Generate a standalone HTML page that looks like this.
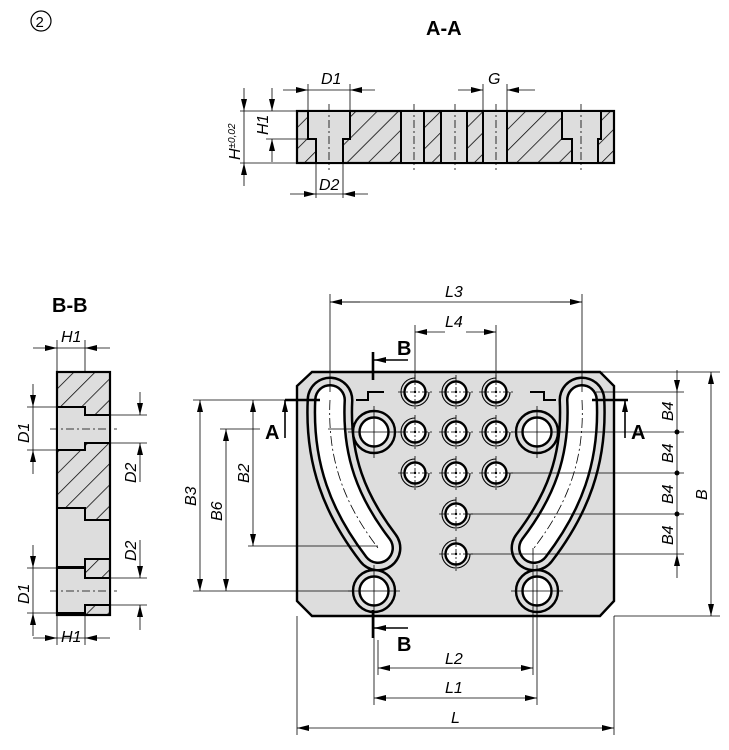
<!DOCTYPE html>
<html><head><meta charset="utf-8"><style>
html,body{margin:0;padding:0;background:#fff}
svg{display:block}
text{font-family:"Liberation Sans",sans-serif;font-size:16px;font-style:italic;fill:#000}
.b{font-weight:bold;font-style:normal;font-size:20px}
</style></head><body>
<svg width="729" height="750" viewBox="0 0 729 750" xmlns="http://www.w3.org/2000/svg">
<defs>
<marker id="ar" viewBox="0 0 12 6" refX="12" refY="3" markerWidth="12" markerHeight="6" orient="auto" markerUnits="userSpaceOnUse"><path d="M0,0L12,3L0,6z"/></marker>
<pattern id="h" width="15" height="15" patternUnits="userSpaceOnUse" patternTransform="rotate(45)"><rect width="15" height="15" fill="#ddd"/><line x1="0" y1="0" x2="0" y2="15" stroke="#000" stroke-width="1.5"/></pattern>
<g id="sh"><circle r="10.5" fill="#fff" stroke="#000" stroke-width="2.4"/><path d="M14,0A14,14 0 1 1 0,-14" fill="none" stroke="#000" stroke-width="1.1"/><line x1="-17" y1="0" x2="17" y2="0" stroke="#000" stroke-width="0.8" stroke-dasharray="6,2,2,2"/><line x1="0" y1="-17" x2="0" y2="17" stroke="#000" stroke-width="0.8" stroke-dasharray="6,2,2,2"/><circle r="1.2"/></g>
<g id="lh"><circle r="21" fill="#ddd" stroke="#000" stroke-width="2.4"/><circle r="14.5" fill="#fff" stroke="#000" stroke-width="2.4"/><line x1="-26" y1="0" x2="26" y2="0" stroke="#000" stroke-width="0.8"/><line x1="0" y1="-26" x2="0" y2="26" stroke="#000" stroke-width="0.8"/></g>
</defs>

<circle cx="41" cy="21" r="10" fill="none" stroke="#000" stroke-width="1.2"/>
<text x="35.5" y="27" style="font-style:normal;font-size:15px">2</text>
<text class="b" x="426" y="35">A-A</text>

<g stroke="#000">
<rect x="297" y="111" width="317" height="52" fill="url(#h)" stroke-width="2.2"/>
<path d="M308,111V139H316V163H343V139H350V111Z" fill="#ddd" stroke-width="2"/>
<path d="M562,111V139H572V163H598V139H601V111Z" fill="#ddd" stroke-width="2"/>
<rect x="401" y="111" width="23" height="52" fill="#ddd" stroke-width="2"/>
<rect x="441" y="111" width="26" height="52" fill="#ddd" stroke-width="2"/>
<rect x="483" y="111" width="24" height="52" fill="#ddd" stroke-width="2"/>
<g stroke-width="0.8" stroke-dasharray="8,3,2,3">
<line x1="329" y1="104" x2="329" y2="170"/><line x1="414" y1="104" x2="414" y2="170"/><line x1="455" y1="104" x2="455" y2="170"/><line x1="496" y1="104" x2="496" y2="170"/><line x1="581" y1="104" x2="581" y2="170"/>
</g>
<g stroke-width="0.8" fill="none">
<line x1="308" y1="84" x2="308" y2="111"/><line x1="350" y1="84" x2="350" y2="111"/>
<line x1="283" y1="90" x2="308" y2="90" marker-end="url(#ar)"/><line x1="375" y1="90" x2="350" y2="90" marker-end="url(#ar)"/><line x1="308" y1="90" x2="350" y2="90"/>
<line x1="483" y1="84" x2="483" y2="111"/><line x1="507" y1="84" x2="507" y2="111"/>
<line x1="458" y1="90" x2="483" y2="90" marker-end="url(#ar)"/><line x1="535" y1="90" x2="507" y2="90" marker-end="url(#ar)"/>
<line x1="316" y1="163" x2="316" y2="198"/><line x1="343" y1="163" x2="343" y2="198"/>
<line x1="290" y1="194" x2="316" y2="194" marker-end="url(#ar)"/><line x1="368" y1="194" x2="343" y2="194" marker-end="url(#ar)"/><line x1="316" y1="194" x2="343" y2="194"/>
<line x1="240" y1="111" x2="297" y2="111"/><line x1="240" y1="163" x2="297" y2="163"/><line x1="266" y1="139" x2="308" y2="139"/>
<line x1="244" y1="88" x2="244" y2="111" marker-end="url(#ar)"/><line x1="244" y1="186" x2="244" y2="163" marker-end="url(#ar)"/><line x1="244" y1="111" x2="244" y2="163"/>
<line x1="272" y1="88" x2="272" y2="111" marker-end="url(#ar)"/><line x1="272" y1="162" x2="272" y2="139" marker-end="url(#ar)"/>
</g>
</g>
<text x="321" y="84">D1</text><text x="488" y="84">G</text><text x="319" y="190">D2</text>
<text transform="translate(268,135) rotate(-90)">H1</text>
<text transform="translate(240,160) rotate(-90)">H<tspan font-size="10" dy="-5">±0,02</tspan></text>

<text class="b" x="52" y="312">B-B</text>
<g stroke="#000">
<rect x="57" y="372" width="53" height="243" fill="url(#h)" stroke-width="2.2"/>
<path d="M57,407H85V415H110V443H85V450H57Z" fill="#ddd" stroke-width="2"/>
<path d="M57,508H85V520H110V559H85V567H57Z" fill="#ddd" stroke-width="2"/>
<path d="M57,568H85V578H110V605H85V613H57Z" fill="#ddd" stroke-width="2"/>
<g stroke-width="0.8" stroke-dasharray="8,3,2,3"><line x1="50" y1="429" x2="117" y2="429"/><line x1="50" y1="591" x2="117" y2="591"/></g>
<g stroke-width="0.8" fill="none">
<line x1="57" y1="340" x2="57" y2="372"/><line x1="85" y1="340" x2="85" y2="372"/>
<line x1="33" y1="348" x2="57" y2="348" marker-end="url(#ar)"/><line x1="110" y1="348" x2="85" y2="348" marker-end="url(#ar)"/><line x1="57" y1="348" x2="85" y2="348"/>
<line x1="57" y1="615" x2="57" y2="645"/><line x1="85" y1="615" x2="85" y2="645"/>
<line x1="33" y1="638" x2="57" y2="638" marker-end="url(#ar)"/><line x1="110" y1="638" x2="85" y2="638" marker-end="url(#ar)"/><line x1="57" y1="638" x2="85" y2="638"/>
<line x1="27" y1="407" x2="57" y2="407"/><line x1="27" y1="450" x2="57" y2="450"/>
<line x1="33" y1="384" x2="33" y2="407" marker-end="url(#ar)"/><line x1="33" y1="474" x2="33" y2="450" marker-end="url(#ar)"/><line x1="33" y1="407" x2="33" y2="450"/>
<line x1="110" y1="415" x2="147" y2="415"/><line x1="110" y1="443" x2="147" y2="443"/>
<line x1="140" y1="392" x2="140" y2="415" marker-end="url(#ar)"/><line x1="140" y1="482" x2="140" y2="443" marker-end="url(#ar)"/>
<line x1="27" y1="568" x2="57" y2="568"/><line x1="27" y1="613" x2="57" y2="613"/>
<line x1="33" y1="545" x2="33" y2="568" marker-end="url(#ar)"/><line x1="33" y1="636" x2="33" y2="613" marker-end="url(#ar)"/><line x1="33" y1="568" x2="33" y2="613"/>
<line x1="110" y1="578" x2="147" y2="578"/><line x1="110" y1="605" x2="147" y2="605"/>
<line x1="140" y1="540" x2="140" y2="578" marker-end="url(#ar)"/><line x1="140" y1="630" x2="140" y2="605" marker-end="url(#ar)"/>
</g>
</g>
<text x="61" y="342">H1</text><text x="61" y="642">H1</text>
<text transform="translate(29,443) rotate(-90)">D1</text>
<text transform="translate(29,604) rotate(-90)">D1</text>
<text transform="translate(136,483) rotate(-90)">D2</text>
<text transform="translate(136,561) rotate(-90)">D2</text>

<path d="M312,372H600L614,386V601L600,616H312L297,601V386Z" fill="#ddd" stroke="#000" stroke-width="2.4"/>
<g fill="none" stroke-linecap="round">
<path d="M330,400C327,460 345,505 378,548" stroke="#000" stroke-width="47"/>
<path d="M330,400C327,460 345,505 378,548" stroke="#ddd" stroke-width="42"/>
<path d="M330,400C327,460 345,505 378,548" stroke="#000" stroke-width="32"/>
<path d="M330,400C327,460 345,505 378,548" stroke="#fff" stroke-width="27"/>
<path d="M330,400C327,460 345,505 378,548" stroke="#000" stroke-width="0.8" stroke-dasharray="10,3,2,3" stroke-linecap="butt"/>
<path d="M582,400C585,460 567,505 534,548" stroke="#000" stroke-width="47"/>
<path d="M582,400C585,460 567,505 534,548" stroke="#ddd" stroke-width="42"/>
<path d="M582,400C585,460 567,505 534,548" stroke="#000" stroke-width="32"/>
<path d="M582,400C585,460 567,505 534,548" stroke="#fff" stroke-width="27"/>
<path d="M582,400C585,460 567,505 534,548" stroke="#000" stroke-width="0.8" stroke-dasharray="10,3,2,3" stroke-linecap="butt"/>
</g>
<use href="#lh" x="374" y="432"/><use href="#lh" x="537" y="432"/>
<use href="#lh" x="374" y="591"/><use href="#lh" x="537" y="591"/>
<use href="#sh" x="415" y="392"/><use href="#sh" x="456" y="392"/><use href="#sh" x="496" y="392"/>
<use href="#sh" x="415" y="432"/><use href="#sh" x="456" y="432"/><use href="#sh" x="496" y="432"/>
<use href="#sh" x="415" y="473"/><use href="#sh" x="456" y="473"/><use href="#sh" x="496" y="473"/>
<use href="#sh" x="456" y="514"/><use href="#sh" x="456" y="554"/>

<g stroke="#000" fill="none">
<path d="M285,400H320" stroke-width="2.6"/>
<path d="M356,400H368V392H384" stroke-width="2"/>
<path d="M373,352V380" stroke-width="2.6"/>
<line x1="408" y1="360" x2="374" y2="360" stroke-width="1.6" marker-end="url(#ar)"/>
<path d="M628,400H592" stroke-width="2.6"/>
<path d="M556,400H544V392H530" stroke-width="2"/>
<line x1="285" y1="438" x2="285" y2="400" stroke-width="1.6" marker-end="url(#ar)"/>
<line x1="625" y1="438" x2="625" y2="400" stroke-width="1.6" marker-end="url(#ar)"/>
<path d="M373,610V638" stroke-width="2.6"/>
<line x1="408" y1="628" x2="374" y2="628" stroke-width="1.6" marker-end="url(#ar)"/>
<g stroke-width="0.8">
<line x1="330" y1="294" x2="330" y2="392"/><line x1="582" y1="294" x2="582" y2="392"/>
<line x1="360" y1="302" x2="330" y2="302" marker-end="url(#ar)"/><line x1="550" y1="302" x2="582" y2="302" marker-end="url(#ar)"/><line x1="330" y1="302" x2="582" y2="302"/>
<line x1="415" y1="325" x2="415" y2="380"/><line x1="496" y1="325" x2="496" y2="380"/>
<line x1="445" y1="332" x2="415" y2="332" marker-end="url(#ar)"/><line x1="466" y1="332" x2="496" y2="332" marker-end="url(#ar)"/>
<line x1="297" y1="616" x2="297" y2="735"/><line x1="614" y1="616" x2="614" y2="735"/>
<line x1="455" y1="728" x2="297" y2="728" marker-end="url(#ar)"/><line x1="455" y1="728" x2="614" y2="728" marker-end="url(#ar)"/>
<line x1="374" y1="612" x2="374" y2="705"/><line x1="537" y1="612" x2="537" y2="705"/>
<line x1="455" y1="698" x2="374" y2="698" marker-end="url(#ar)"/><line x1="455" y1="698" x2="537" y2="698" marker-end="url(#ar)"/>
<line x1="378" y1="640" x2="378" y2="675"/><line x1="533" y1="548" x2="533" y2="675"/>
<line x1="455" y1="668" x2="378" y2="668" marker-end="url(#ar)"/><line x1="455" y1="668" x2="533" y2="668" marker-end="url(#ar)"/>
<line x1="600" y1="372" x2="720" y2="372"/><line x1="614" y1="616" x2="720" y2="616"/>
<line x1="711" y1="494" x2="711" y2="372" marker-end="url(#ar)"/><line x1="711" y1="494" x2="711" y2="616" marker-end="url(#ar)"/>
<line x1="596" y1="392" x2="684" y2="392"/><line x1="558" y1="432" x2="684" y2="432"/><line x1="505" y1="473" x2="684" y2="473"/><line x1="465" y1="514" x2="684" y2="514"/><line x1="465" y1="554" x2="684" y2="554"/>
<line x1="677" y1="370" x2="677" y2="392" marker-end="url(#ar)"/><line x1="677" y1="578" x2="677" y2="554" marker-end="url(#ar)"/><line x1="677" y1="392" x2="677" y2="554"/>
<line x1="193" y1="400" x2="285" y2="400"/><line x1="193" y1="591" x2="353" y2="591"/>
<line x1="220" y1="429" x2="260" y2="429"/><line x1="328" y1="429" x2="353" y2="429"/>
<line x1="248" y1="546" x2="378" y2="546"/>
<line x1="200" y1="495" x2="200" y2="400" marker-end="url(#ar)"/><line x1="200" y1="495" x2="200" y2="591" marker-end="url(#ar)"/>
<line x1="226" y1="510" x2="226" y2="429" marker-end="url(#ar)"/><line x1="226" y1="510" x2="226" y2="591" marker-end="url(#ar)"/>
<line x1="253" y1="473" x2="253" y2="400" marker-end="url(#ar)"/><line x1="253" y1="473" x2="253" y2="546" marker-end="url(#ar)"/>
</g>
</g>
<g fill="#000"><circle cx="677" cy="432" r="2.5"/><circle cx="677" cy="473" r="2.5"/><circle cx="677" cy="514" r="2.5"/></g>
<text x="445" y="297">L3</text><text x="445" y="327">L4</text>
<text x="445" y="664">L2</text><text x="445" y="693">L1</text><text x="451" y="723">L</text>
<text transform="translate(673,421) rotate(-90)">B4</text>
<text transform="translate(673,463) rotate(-90)">B4</text>
<text transform="translate(673,504) rotate(-90)">B4</text>
<text transform="translate(673,545) rotate(-90)">B4</text>
<text transform="translate(707,500) rotate(-90)">B</text>
<text transform="translate(196,506) rotate(-90)">B3</text>
<text transform="translate(222,521) rotate(-90)">B6</text>
<text transform="translate(249,483) rotate(-90)">B2</text>
<text class="b" x="265" y="439">A</text>
<text class="b" x="631" y="439">A</text>
<text class="b" x="397" y="355">B</text>
<text class="b" x="397" y="651">B</text>
</svg>
</body></html>
